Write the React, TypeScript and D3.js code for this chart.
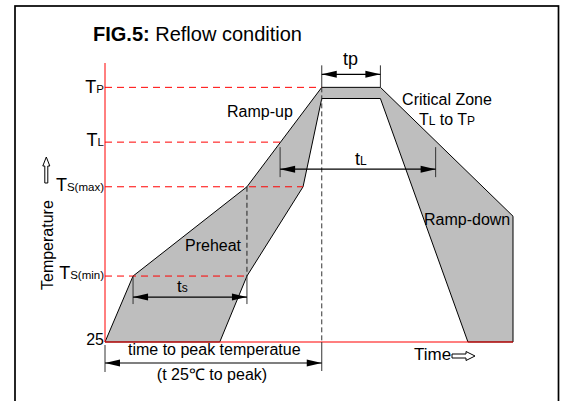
import * as d3 from 'd3';

// schematic reflow profile, time in s, temperature in diagram units
const TIME_DOMAIN = [0, 480];
const TEMP_DOMAIN = [25, 300];

const levelNames = ['25', 'TS(min)', 'TS(max)', 'TL', 'TP'];
const levelTemps = [25, 90, 178, 222, 276];
// time at which each red guide line stops (null = no guide)
const levelGuideEnd: (number | null)[] = [null, 167, 233, 206, 255];

const outerTime = [0, 33, 167, 255, 324, 480, 480];
const outerTemp = [25, 90, 178, 276, 276, 149, 25];
const innerTime = [427, 324, 255, 233, 167, 135];
const innerTemp = [25, 265, 265, 178, 90, 25];

const tpSpan = [255, 324];
const tsSpan = [33, 167];
const tLSpan = [206, 389];
const peakSpan = [0, 255];

const FONT = "Arial, 'Liberation Sans', sans-serif";

function DimArrow({ x1, x2, y }: { x1: number; x2: number; y: number }) {
  const L = 15, H = 3.5;
  return (
    <g>
      <line x1={x1} x2={x2} y1={y} y2={y} stroke="#000" strokeWidth={1.2} />
      <path d={`M${x1},${y}L${x1 + L},${y - H}L${x1 + L},${y + H}Z`} fill="#000" />
      <path d={`M${x2},${y}L${x2 - L},${y - H}L${x2 - L},${y + H}Z`} fill="#000" />
    </g>
  );
}

function Tick({ x, y1, y2 }: { x: number; y1: number; y2: number }) {
  return <line x1={x} x2={x} y1={y1} y2={y2} stroke="#333" strokeWidth={1} />;
}

export default function App() {
  const width = 565, height = 401;
  const x = d3.scaleLinear().domain(TIME_DOMAIN).range([105, 513]);
  const y = d3.scaleLinear().domain(TEMP_DOMAIN).range([342, 63]);

  const pts: [number, number][] = [
    ...outerTime.map((t, i) => [x(t), y(outerTemp[i])] as [number, number]),
    ...innerTime.map((t, i) => [x(t), y(innerTemp[i])] as [number, number]),
  ];
  const band = d3.line()(pts) + 'Z';

  const yTP = y(levelTemps[4]);
  const yTL = y(levelTemps[3]);
  const ySmin = y(levelTemps[1]);
  const yBase = y(TEMP_DOMAIN[0]);
  const xPeak = x(peakSpan[1]);

  // label baselines relative to their level
  const labelDy = [3, 3, 4, 4, 6];

  return (
    <svg width={width} height={height} style={{ position: 'absolute', left: 0, top: 0, background: '#fff' }}
      fontFamily={FONT}>
      <rect x={15} y={6} width={543.5} height={430} fill="#fff" stroke="#000" strokeWidth={1.7} />

      <text x={93} y={41} fontSize={20}>
        <tspan fontWeight="bold">FIG.5:</tspan> Reflow condition
      </text>

      <path d={band} fill="#bebebe" stroke="#000" strokeWidth={1} strokeLinejoin="round" />

      {levelTemps.map((t, i) => levelGuideEnd[i] === null ? null : (
        <line key={i} x1={x(0)} x2={x(levelGuideEnd[i] as number)} y1={y(t)} y2={y(t)}
          stroke="#ff0000" strokeWidth={1} strokeDasharray="7,5" />
      ))}

      {/* black dashed verticals */}
      <line x1={xPeak} x2={xPeak} y1={yTP} y2={yBase} stroke="#333" strokeWidth={1} strokeDasharray="5,3" />
      <line x1={x(tsSpan[1])} x2={x(tsSpan[1])} y1={y(levelTemps[2])} y2={ySmin}
        stroke="#222" strokeWidth={1} strokeDasharray="5,3" />

      {/* axes */}
      <line x1={x(0)} x2={x(0)} y1={y(TEMP_DOMAIN[1])} y2={yBase} stroke="#ff0000" strokeWidth={1} />
      <line x1={x(0)} x2={x(TIME_DOMAIN[1])} y1={yBase} y2={yBase} stroke="#ff0000" strokeWidth={1.2} />

      {/* tp */}
      <Tick x={x(tpSpan[0])} y1={yTP - 22} y2={yTP} />
      <Tick x={x(tpSpan[1])} y1={yTP - 22} y2={yTP} />
      <DimArrow x1={x(tpSpan[0])} x2={x(tpSpan[1])} y={yTP - 13} />
      <text x={343} y={yTP - 22} fontSize={18}>tp</text>

      {/* tL */}
      <Tick x={x(tLSpan[0])} y1={yTL + 5} y2={yTL + 35} />
      <Tick x={x(tLSpan[1])} y1={yTL + 5} y2={yTL + 35} />
      <DimArrow x1={x(tLSpan[0])} x2={x(tLSpan[1])} y={yTL + 27} />
      <text x={355} y={yTL + 23} fontSize={18}>t<tspan fontSize={12}>L</tspan></text>

      {/* ts */}
      <Tick x={x(tsSpan[0])} y1={ySmin} y2={ySmin + 28} />
      <Tick x={x(tsSpan[1])} y1={ySmin} y2={ySmin + 28} />
      <DimArrow x1={x(tsSpan[0])} x2={x(tsSpan[1])} y={ySmin + 21} />
      <text x={177} y={ySmin + 16} fontSize={17}>t<tspan fontSize={12}>s</tspan></text>

      {/* time to peak */}
      <Tick x={x(peakSpan[0])} y1={yBase + 3} y2={yBase + 30} />
      <Tick x={xPeak} y1={yBase} y2={yBase + 29} />
      <DimArrow x1={x(peakSpan[0])} x2={xPeak} y={yBase + 21} />
      <text x={128} y={yBase + 13} fontSize={16}>time to peak temperatue</text>
      <text x={212} y={yBase + 38} fontSize={16} textAnchor="middle">(t 25℃ to peak)</text>

      {/* level labels */}
      {levelNames.map((n, i) => (
        <text key={n} x={104} y={y(levelTemps[i]) + labelDy[i]} textAnchor="end" fontSize={i === 0 ? 16 : 18}>
          {i === 0 ? n : (<>T<tspan fontSize={11.5}>{n.slice(1)}</tspan></>)}
        </text>
      ))}

      {/* y-axis title */}
      <path d="M46.3,157L49.8,166L47.8,166L47.8,183L44.8,183L44.8,166L42.8,166Z" fill="#fff" stroke="#000" strokeWidth={1} />
      <text transform="translate(53,290) rotate(-90)" fontSize={16}>Temperature</text>

      {/* x-axis title */}
      <text x={414} y={360} fontSize={17}>Time</text>
      <path d="M452,354L466,354L466,351.5L475,356L466,360.5L466,358L452,358Z" fill="#fff" stroke="#000" strokeWidth={1} />

      {/* region labels */}
      <text x={227} y={117} fontSize={16}>Ramp-up</text>
      <text x={447} y={105} fontSize={16} textAnchor="middle">Critical Zone</text>
      <text x={447} y={125} fontSize={16} textAnchor="middle">
        T<tspan fontSize={12}>L</tspan> to T<tspan fontSize={12}>P</tspan>
      </text>
      <text x={185} y={251} fontSize={16}>Preheat</text>
      <text x={424} y={225} fontSize={16}>Ramp-down</text>
    </svg>
  );
}
